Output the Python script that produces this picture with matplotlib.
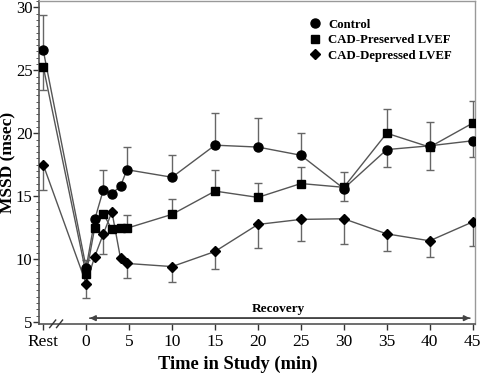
import numpy as np
import matplotlib
matplotlib.use("Agg")
import matplotlib.pyplot as plt
from matplotlib.ticker import MultipleLocator

plt.rcParams['font.family'] = ['Liberation Serif', 'DejaVu Serif']

# x positions: "Rest" is placed at -5
times = [-5, 0, 1, 2, 3, 4, 4.75, 10, 15, 20, 25, 30, 35, 40, 45]
xtick_vals = [-5, 0, 5, 10, 15, 20, 25, 30, 35, 40, 45]
xtick_labels = ["Rest", "0", "5", "10", "15", "20", "25", "30", "35", "40", "45"]

nan = np.nan
control = [26.6, 9.3, 13.15, 15.5, 15.2, 15.8, 17.1, 16.5, 19.05, 18.9, 18.25, 15.6, 18.7, 19.0, 19.4]
control_up = [29.4, 9.9, nan, 17.1, nan, nan, 18.9, 18.3, 21.6, 21.2, 20.05, 16.9, nan, nan, nan]
control_dn = [nan, nan, nan, nan, nan, nan, nan, nan, nan, nan, nan, nan, 17.3, 17.1, 18.1]

preserved = [25.3, 8.8, 12.5, 13.6, 12.35, 12.45, 12.45, 13.55, 15.4, 14.9, 16.0, 15.7, 20.0, 18.9, 20.8]
preserved_up = [nan, nan, nan, nan, nan, nan, 13.5, 14.8, 17.05, 16.05, 17.3, nan, 21.9, 20.9, 22.6]
preserved_dn = [23.4, nan, nan, nan, nan, nan, nan, nan, nan, nan, nan, 14.6, nan, nan, nan]

depressed = [17.5, 8.05, 10.2, 12.0, 13.75, 10.05, 9.65, 9.4, 10.6, 12.75, 13.15, 13.2, 12.0, 11.45, 12.95]
depressed_dn = [15.5, 6.9, nan, 10.4, nan, nan, 8.5, 8.2, 9.2, 10.9, 11.4, 11.2, 10.6, 10.2, 11.0]

series = [
    ("Control", control, control_up, control_dn, "o", 6.5),
    ("CAD-Preserved LVEF", preserved, preserved_up, preserved_dn, "s", 6),
    ("CAD-Depressed LVEF", depressed, [nan] * len(depressed), depressed_dn, "D", 5),
]

fig = plt.figure(figsize=(4.8, 3.78), dpi=100)
ax = fig.add_axes([0.082, 0.143, 0.908, 0.854])

line_c = "#555555"
for name, vals, up, dn, mk, ms in series:
    v = np.array(vals, float)
    u = np.array(up, float)
    d = np.array(dn, float)
    yerr_up = np.where(np.isnan(u), 0, u - v)
    yerr_dn = np.where(np.isnan(d), 0, v - d)
    mask = (yerr_up > 0) | (yerr_dn > 0)
    t = np.array(times, float)
    ax.errorbar(t[mask], v[mask], yerr=[yerr_dn[mask], yerr_up[mask]], fmt="none",
                ecolor="#666666", elinewidth=1.0, capsize=3, capthick=1.0, zorder=2)
    ax.plot(t, v, color=line_c, lw=1.0, zorder=3)
    ax.plot(t, v, linestyle="none", marker=mk, markersize=ms, color="black", zorder=4, label=name)

ax.set_xlim(-5.45, 45.3)
ax.set_ylim(4.84, 30.5)
ax.set_xticks(xtick_vals)
ax.set_xticklabels(xtick_labels)
ax.set_yticks([5, 10, 15, 20, 25, 30])
ax.yaxis.set_minor_locator(MultipleLocator(0.5))
ax.tick_params(axis="x", which="major", direction="out", length=4, width=1,
               labelsize=12.5, colors="#333333", labelcolor="black")
ax.tick_params(axis="y", which="major", direction="out", length=4, width=1, pad=1,
               labelsize=12, colors="#333333", labelcolor="black")
ax.tick_params(axis="y", which="minor", direction="out", length=2, width=0.7, colors="#555555")

for s in ["left", "bottom"]:
    ax.spines[s].set_color("#555555")
    ax.spines[s].set_linewidth(1.2)
for s in ["top", "right"]:
    ax.spines[s].set_color("#999999")
    ax.spines[s].set_linewidth(1.0)

ax.set_xlabel("Time in Study (min)", fontsize=13.3, fontweight="bold")
ax.xaxis.set_label_coords(0.455, -0.098)
ax.set_ylabel("MSSD (msec)", fontsize=12.5, fontweight="bold")
ax.yaxis.set_label_coords(-0.07, 0.5)
ax.yaxis.label.set_va("center")
ax.xaxis.label.set_va("top")

# axis break marks
for x0 in [-3.9, -3.1]:
    ax.plot([x0 - 0.35, x0 + 0.35], [4.55, 5.15], color="#333333", lw=1.0,
            clip_on=False, zorder=5)

# Recovery arrow
ax.annotate("", xy=(45, 5.3), xytext=(0.1, 5.3),
            arrowprops=dict(arrowstyle="-|>", color="#444444", lw=1.2, mutation_scale=8))
ax.annotate("", xy=(0.1, 5.3), xytext=(45, 5.3),
            arrowprops=dict(arrowstyle="-|>", color="#444444", lw=1.2, mutation_scale=8))
ax.text(22.4, 6.05, "Recovery", ha="center", va="center", fontsize=9.5, fontweight="bold")

leg = ax.legend(loc="upper left", bbox_to_anchor=(0.598, 0.973), frameon=False,
                prop={"weight": "bold", "size": 9.2}, handlelength=1.0,
                handletextpad=0.5, labelspacing=0.28, borderaxespad=0.3)

fig.savefig("out.png", dpi=100)
